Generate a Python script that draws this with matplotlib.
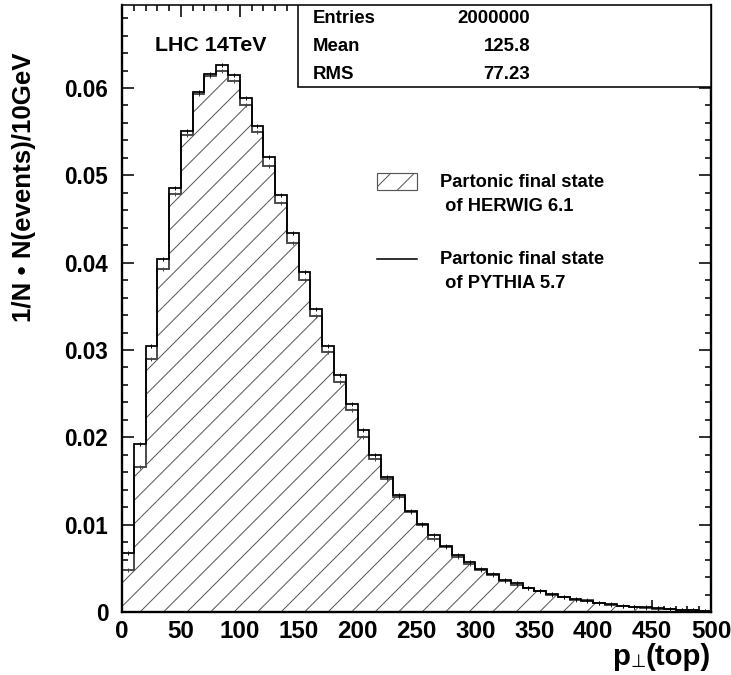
import numpy as np
import matplotlib
matplotlib.use("Agg")
import matplotlib.pyplot as plt
import matplotlib.ticker as mticker
from matplotlib.patches import Rectangle
from matplotlib.lines import Line2D

# --- data: top pT, 10 GeV bins, normalised ---
bin_edges = np.arange(0, 510, 10)
herwig = [0.0048, 0.0166, 0.0290, 0.0393, 0.0479, 0.0546, 0.0593, 0.0614, 0.0619, 0.0608,
          0.0581, 0.0550, 0.0511, 0.0468, 0.0423, 0.0380, 0.0339, 0.0298, 0.0263, 0.0231,
          0.0200, 0.0175, 0.0152, 0.0132, 0.0114, 0.0100, 0.0084, 0.0074, 0.0063, 0.0055,
          0.0048, 0.0042, 0.0036, 0.0031, 0.0027, 0.0024, 0.0020, 0.0017, 0.0014, 0.0014,
          0.0010, 0.00085, 0.0007, 0.0006, 0.0005, 0.0004, 0.00033, 0.00026, 0.0002, 0.00015]
pythia = [0.0068, 0.0192, 0.0305, 0.0404, 0.0485, 0.0551, 0.0595, 0.0616, 0.0626, 0.0615,
          0.0589, 0.0557, 0.0521, 0.0478, 0.0434, 0.0389, 0.0347, 0.0305, 0.0271, 0.0238,
          0.0208, 0.0180, 0.0155, 0.0134, 0.0116, 0.0101, 0.0088, 0.0075, 0.0065, 0.0057,
          0.0049, 0.0043, 0.0037, 0.0033, 0.0027, 0.0024, 0.0021, 0.0017, 0.00145, 0.00126,
          0.0010, 0.00088, 0.00073, 0.00061, 0.00053, 0.00042, 0.00034, 0.00027, 0.0002, 0.00015]

stat_names = ["Entries", "Mean", "RMS"]
stat_values = ["2000000", "125.8", "77.23"]
legend_lines = [("Partonic final state", " of HERWIG 6.1"),
                ("Partonic final state", " of PYTHIA 5.7")]

plt.rcParams['font.family'] = ['Liberation Sans', 'DejaVu Sans']
plt.rcParams['font.weight'] = 'bold'
plt.rcParams['hatch.linewidth'] = 0.5

DPI = 141
fig = plt.figure(figsize=(731 / DPI, 675 / DPI), dpi=DPI)
ax = fig.add_axes([122 / 731, 1 - 612 / 675, 589 / 731, 607 / 675])

centers = 0.5 * (bin_edges[:-1] + bin_edges[1:])

# hatched HERWIG histogram
ax.stairs(herwig, bin_edges, fill=True, facecolor='white', edgecolor='#555555',
          hatch='//', linewidth=0.8, zorder=2)
ax.stairs(herwig, bin_edges, color='#444444', linewidth=0.8, zorder=3)
ax.plot(centers, herwig, '|', color='#444444', ms=2.5, mew=0.5, zorder=3)

# PYTHIA line histogram
ax.stairs(pythia, bin_edges, color='black', linewidth=0.9, zorder=4)
ax.plot(centers, pythia, '|', color='black', ms=2.5, mew=0.5, zorder=4)

ax.set_xlim(0, 500)
ax.set_ylim(0, 0.0695)

ax.xaxis.set_major_locator(mticker.MultipleLocator(50))
ax.xaxis.set_minor_locator(mticker.MultipleLocator(10))
ax.yaxis.set_major_locator(mticker.MultipleLocator(0.01))
ax.yaxis.set_minor_locator(mticker.MultipleLocator(0.002))
ax.yaxis.set_major_formatter(mticker.FuncFormatter(lambda v, p: '0' if abs(v) < 1e-9 else f'{v:.2f}'))

ax.tick_params(which='both', direction='in', top=True, right=True, width=0.8)
ax.tick_params(which='major', length=6)
ax.tick_params(which='minor', length=3)
ax.tick_params(axis='x', labelsize=12.3, pad=4)
ax.tick_params(axis='y', labelsize=11.5, pad=7)
for lab in ax.get_xticklabels() + ax.get_yticklabels():
    lab.set_fontweight('bold')

for side in ['left', 'bottom', 'right']:
    ax.spines[side].set_linewidth(1.2)
ax.spines['top'].set_linewidth(0.8)

ax.set_ylabel('1/N \u2022 N(events)/10GeV', fontsize=13.2, fontweight='bold')
ax.yaxis.set_label_coords(-0.146, 0.70)

# x label  p⊥(top), built from pieces so the ⊥ can sit as a subscript
t_top = ax.text(1.0, -0.087, '(top)', transform=ax.transAxes, ha='right', va='baseline',
                fontsize=15, fontweight='bold')
t_perp = ax.annotate('\u22a5', xy=(0, 0), xycoords=t_top, ha='right', va='bottom',
                     fontsize=9, fontweight='normal', family='DejaVu Sans')
ax.annotate('p', xy=(0, 0), xycoords=(t_perp, t_top), ha='right', va='bottom',
            fontsize=15, fontweight='bold')

# statistics box
ax.add_patch(Rectangle((0.2988, 0.8644), 0.7012, 0.1356, transform=ax.transAxes,
                       facecolor='white', edgecolor='black', linewidth=0.8, zorder=5))
for name, val, yy in zip(stat_names, stat_values, [0.977, 0.931, 0.886]):
    ax.text(0.3243, yy, name, transform=ax.transAxes, fontsize=9.5, fontweight='bold',
            ha='left', va='center', zorder=6)
    ax.text(0.6927, yy, val, transform=ax.transAxes, fontsize=9.5, fontweight='bold',
            ha='right', va='center', zorder=6)

ax.text(0.056, 0.934, 'LHC 14TeV', transform=ax.transAxes, fontsize=10.9,
        fontweight='bold', ha='left', va='center')

# legend drawn by hand
ax.add_patch(Rectangle((0.433, 0.6952), 0.068, 0.0281, transform=ax.transAxes,
                       facecolor='white', edgecolor='#555555', hatch='//', linewidth=0.6))
ax.add_line(Line2D([0.433, 0.501], [0.5815, 0.5815], transform=ax.transAxes,
                   color='black', linewidth=0.8))
for (l1, l2), ytop in zip(legend_lines, [0.707, 0.5815]):
    ax.text(0.54, ytop, l1, transform=ax.transAxes, fontsize=9.4, fontweight='bold',
            ha='left', va='center')
    ax.text(0.54, ytop - 0.0395, l2, transform=ax.transAxes, fontsize=9.4, fontweight='bold',
            ha='left', va='center')

fig.savefig('out.png', dpi=DPI)
plt.close(fig)
